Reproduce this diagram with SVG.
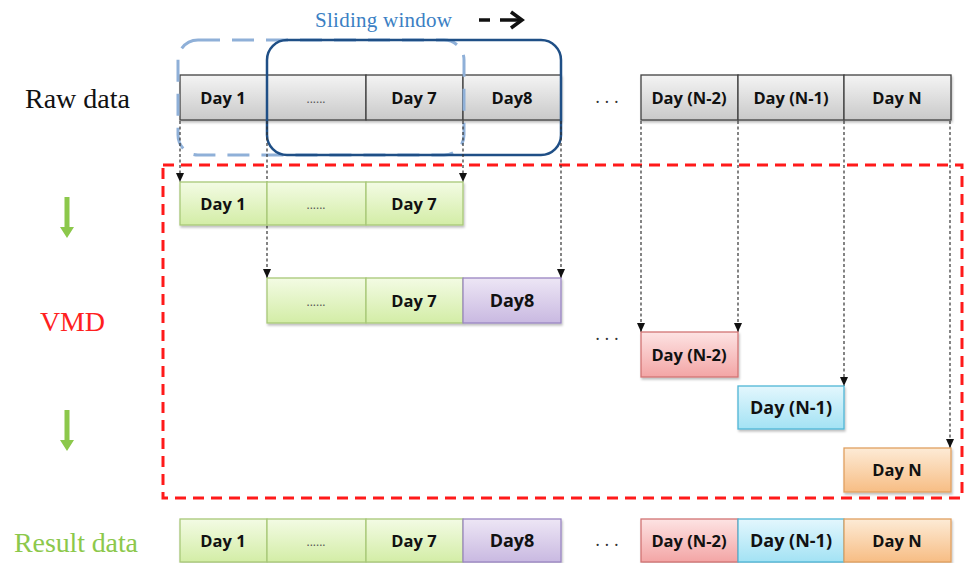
<svg xmlns="http://www.w3.org/2000/svg" width="966" height="563" viewBox="0 0 966 563">
<defs>
<linearGradient id="gGray" x1="0" y1="0" x2="0" y2="1"><stop offset="0" stop-color="#f4f4f4"/><stop offset="1" stop-color="#c9c9c9"/></linearGradient>
<linearGradient id="gGreen" x1="0" y1="0" x2="0" y2="1"><stop offset="0" stop-color="#f3fbe4"/><stop offset="1" stop-color="#d3eda6"/></linearGradient>
<linearGradient id="gPurple" x1="0" y1="0" x2="0" y2="1"><stop offset="0" stop-color="#ede6f5"/><stop offset="1" stop-color="#c9b9e1"/></linearGradient>
<linearGradient id="gRed" x1="0" y1="0" x2="0" y2="1"><stop offset="0" stop-color="#fde3e3"/><stop offset="1" stop-color="#f3a5a5"/></linearGradient>
<linearGradient id="gBlue" x1="0" y1="0" x2="0" y2="1"><stop offset="0" stop-color="#e3f7fd"/><stop offset="1" stop-color="#a3e2f4"/></linearGradient>
<linearGradient id="gOrange" x1="0" y1="0" x2="0" y2="1"><stop offset="0" stop-color="#fdebd6"/><stop offset="1" stop-color="#f7bd84"/></linearGradient>
<filter id="sh" x="-5%" y="-10%" width="110%" height="130%"><feDropShadow dx="1" dy="2" stdDeviation="1.2" flood-color="#000" flood-opacity="0.25"/></filter>
<marker id="ah" markerWidth="9" markerHeight="8" refX="9" refY="4" orient="auto" markerUnits="userSpaceOnUse"><path d="M0,0 L9,4 L0,8 Z" fill="#111"/></marker>
</defs>
<style>
.gray{fill:url(#gGray);stroke:#404040;stroke-width:1.3}
.green{fill:url(#gGreen);stroke:#a8c878;stroke-width:1.3}
.purple{fill:url(#gPurple);stroke:#9a86c2;stroke-width:1.3}
.red{fill:url(#gRed);stroke:#d27474;stroke-width:1.3}
.blue{fill:url(#gBlue);stroke:#4fb6d6;stroke-width:1.3}
.orange{fill:url(#gOrange);stroke:#e0a060;stroke-width:1.3}
.t{font-family:"Open Sans","Noto Sans",sans-serif;font-weight:bold;font-size:16.5px;fill:#111;text-anchor:middle}
.tb{font-size:18px}
.dots{font-family:"Open Sans",sans-serif;font-size:12px;fill:#555;text-anchor:middle}
.ell{font-family:"Open Sans",sans-serif;font-size:18px;fill:#333;text-anchor:middle}
.lbl{font-family:"Liberation Serif",serif;font-size:28px}
.conn{stroke:#333;stroke-width:1.2;stroke-dasharray:3,2.5;fill:none;marker-end:url(#ah)}
</style>

<!-- left labels -->
<text class="lbl" x="25" y="108" fill="#111" textLength="105">Raw data</text>
<text class="lbl" x="40" y="331" fill="#ff2020" textLength="65">VMD</text>
<text class="lbl" x="14" y="552" fill="#8cc84b" textLength="124">Result data</text>
<path d="M64.5,197 H69.5 V227 H74 L67,238 L60,227 H64.5 Z" fill="#8cc84b"/>
<path d="M64.5,410 H69.5 V440 H74 L67,451 L60,440 H64.5 Z" fill="#8cc84b"/>

<!-- sliding window label -->
<text x="315" y="27" font-family="Liberation Serif,serif" font-size="21" fill="#3b7fc4" textLength="137">Sliding window</text>
<line x1="479" y1="20" x2="490" y2="20" stroke="#111" stroke-width="3.5"/>
<line x1="500" y1="20" x2="520" y2="20" stroke="#111" stroke-width="3.5"/>
<path d="M511,12 L522,20 L511,28" fill="none" stroke="#111" stroke-width="3.5"/>

<!-- raw data row -->
<g id="raw">
<g filter="url(#sh)">
<rect class="gray" x="180" y="75" width="87" height="45"/>
<rect class="gray" x="267" y="75" width="99" height="45"/>
<rect class="gray" x="366" y="75" width="97" height="45"/>
<rect class="gray" x="463" y="75" width="98" height="45"/>
<rect class="gray" x="641" y="75" width="97" height="45"/>
<rect class="gray" x="738" y="75" width="106" height="45"/>
<rect class="gray" x="844" y="75" width="107" height="45"/>
</g>
<text class="t" x="223" y="104">Day 1</text>
<text class="dots" x="316" y="103">......</text>
<text class="t" x="414" y="104">Day 7</text>
<text class="t" x="512" y="104">Day8</text>
<text class="ell" x="607" y="103">. . .</text>
<text class="t" x="689" y="104">Day (N-2)</text>
<text class="t" x="791" y="104">Day (N-1)</text>
<text class="t" x="897" y="104">Day N</text>
</g>

<!-- sliding windows -->
<g id="windows">
<rect x="178" y="40" width="286" height="115" rx="20" fill="none" stroke="#8fb0d8" stroke-width="3" stroke-dasharray="22,12"/>
<rect x="267" y="40" width="294" height="115" rx="20" fill="none" stroke="#1f4f86" stroke-width="2.5"/>
</g>

<!-- VMD region -->
<rect id="vmd-region" x="163" y="165" width="799" height="333" fill="none" stroke="#ff1a1a" stroke-width="3" stroke-dasharray="11,7"/>

<!-- connectors -->
<g id="connectors">
<path class="conn" d="M180,121 V182"/>
<path class="conn" d="M463,121 V182"/>
<path class="conn" d="M267,121 V278"/>
<path class="conn" d="M561,121 V278"/>
<path class="conn" d="M641,121 V332"/>
<path class="conn" d="M738,121 V332"/>
<path class="conn" d="M844,121 V386"/>
<path class="conn" d="M950,121 V448"/>
</g>

<!-- window 1 -->
<g id="w1">
<g filter="url(#sh)">
<rect class="green" x="180" y="182" width="87" height="43"/>
<rect class="green" x="267" y="182" width="99" height="43"/>
<rect class="green" x="366" y="182" width="97" height="43"/>
</g>
<text class="t" x="223" y="210">Day 1</text>
<text class="dots" x="316" y="209">......</text>
<text class="t" x="414" y="210">Day 7</text>
</g>

<!-- window 2 -->
<g id="w2">
<g filter="url(#sh)">
<rect class="green" x="267" y="278" width="99" height="45"/>
<rect class="green" x="366" y="278" width="97" height="45"/>
<rect class="purple" x="463" y="278" width="98" height="45"/>
</g>
<text class="dots" x="316" y="306">......</text>
<text class="t" x="414" y="307">Day 7</text>
<text class="t tb" x="512" y="307">Day8</text>
</g>

<text class="ell" x="607" y="340">. . .</text>

<g id="wN2"><rect class="red" filter="url(#sh)" x="641" y="332" width="97" height="45"/><text class="t" x="689" y="361">Day (N-2)</text></g>
<g id="wN1"><rect class="blue" filter="url(#sh)" x="738" y="386" width="106" height="43"/><text class="t tb" x="791" y="414">Day (N-1)</text></g>
<g id="wN"><rect class="orange" filter="url(#sh)" x="844" y="448" width="107" height="44"/><text class="t" x="897" y="476">Day N</text></g>

<!-- result row -->
<g id="result">
<g filter="url(#sh)">
<rect class="green" x="180" y="519" width="87" height="43"/>
<rect class="green" x="267" y="519" width="99" height="43"/>
<rect class="green" x="366" y="519" width="97" height="43"/>
<rect class="purple" x="463" y="519" width="98" height="43"/>
<rect class="red" x="641" y="519" width="97" height="43"/>
<rect class="blue" x="738" y="519" width="106" height="43"/>
<rect class="orange" x="844" y="519" width="107" height="43"/>
</g>
<text class="t" x="223" y="547">Day 1</text>
<text class="dots" x="316" y="546">......</text>
<text class="t" x="414" y="547">Day 7</text>
<text class="t tb" x="512" y="547">Day8</text>
<text class="ell" x="607" y="546">. . .</text>
<text class="t" x="689" y="547">Day (N-2)</text>
<text class="t tb" x="791" y="547">Day (N-1)</text>
<text class="t" x="897" y="547">Day N</text>
</g>
</svg>
